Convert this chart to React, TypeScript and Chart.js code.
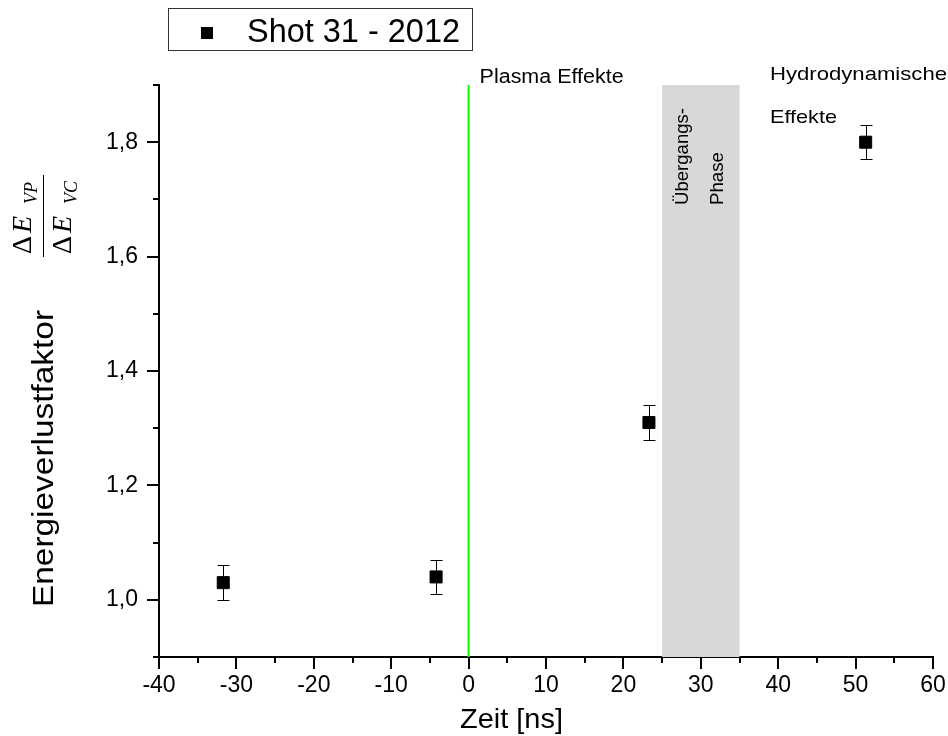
import React, { useEffect, useRef } from 'react';
import { Chart, registerables } from 'chart.js';

Chart.register(...registerables);

// ---- data ----
const timesNs = [-31.7, -4.2, 23.3, 51.3];
const lossFactor = [1.03, 1.04, 1.31, 1.8];
const lossError = [0.03, 0.03, 0.03, 0.03];
const seriesLabel = 'Shot 31 - 2012';
const xTitle = 'Zeit [ns]';
const yTitle = 'Energieverlustfaktor';
const xRange = [-40, 60];
const yRange = [0.9, 1.9];
const xMinorStep = 5;
const xMajorStep = 10;
const yMinorStep = 0.1;
const transitionPhase = [25, 35];
const plasmaLineAt = 0;
const annotationPlasma = 'Plasma Effekte';
const annotationHydro = ['Hydrodynamische', 'Effekte'];
const annotationTransition = ['Übergangs-', 'Phase'];

const SANS = '"Liberation Sans", Arial, Helvetica, sans-serif';
const SERIF = '"Liberation Serif", "Times New Roman", serif';

function fitText(
  ctx: CanvasRenderingContext2D,
  text: string,
  x: number,
  y: number,
  size: number,
  width: number | null,
  rotate = false,
  family = SANS,
  style = ''
) {
  ctx.save();
  ctx.font = `${style} ${size}px ${family}`.trim();
  const w = ctx.measureText(text).width;
  ctx.translate(x, y);
  if (rotate) ctx.rotate(-Math.PI / 2);
  if (width) ctx.scale(width / w, 1);
  ctx.textAlign = 'left';
  ctx.textBaseline = 'alphabetic';
  ctx.fillStyle = '#000';
  ctx.fillText(text, 0, 0);
  ctx.restore();
}

const decorPlugin = {
  id: 'decor',
  beforeDatasetsDraw(chart: any) {
    const { ctx, chartArea: a, scales } = chart;
    const xs = scales.x;
    ctx.save();
    // transition band
    const b0 = xs.getPixelForValue(transitionPhase[0]);
    const b1 = xs.getPixelForValue(transitionPhase[1]);
    ctx.fillStyle = '#d8d8d8';
    ctx.fillRect(b0, a.top, b1 - b0, a.bottom - a.top);
    // plasma line
    const gx = xs.getPixelForValue(plasmaLineAt);
    ctx.strokeStyle = '#00ff00';
    ctx.lineWidth = 2;
    ctx.beginPath();
    ctx.moveTo(gx, a.top);
    ctx.lineTo(gx, a.bottom);
    ctx.stroke();
    ctx.restore();
  },
  afterDatasetsDraw(chart: any) {
    const { ctx, scales } = chart;
    const xs = scales.x;
    const ys = scales.y;
    ctx.save();
    ctx.strokeStyle = '#000';
    ctx.lineWidth = 1;
    timesNs.forEach((t, i) => {
      const px = Math.round(xs.getPixelForValue(t)) + 0.5;
      const top = Math.round(ys.getPixelForValue(lossFactor[i] + lossError[i])) + 0.5;
      const bot = Math.round(ys.getPixelForValue(lossFactor[i] - lossError[i])) + 0.5;
      ctx.beginPath();
      ctx.moveTo(px, top);
      ctx.lineTo(px, bot);
      ctx.moveTo(px - 6, top);
      ctx.lineTo(px + 6, top);
      ctx.moveTo(px - 6, bot);
      ctx.lineTo(px + 6, bot);
      ctx.stroke();
    });
    ctx.restore();
  },
  afterDraw(chart: any) {
    const { ctx, chartArea: a, scales } = chart;
    const xs = scales.x;
    const ys = scales.y;
    ctx.save();
    // tick marks (major + minor), outward
    ctx.strokeStyle = '#000';
    ctx.lineWidth = 2;
    xs.ticks.forEach((tk: any) => {
      const major = Math.round(tk.value) % xMajorStep === 0;
      const px = Math.round(xs.getPixelForValue(tk.value));
      ctx.beginPath();
      ctx.moveTo(px, a.bottom);
      ctx.lineTo(px, a.bottom + (major ? 12 : 6));
      ctx.stroke();
    });
    ys.ticks.forEach((tk: any) => {
      const major = Math.round(tk.value * 10) % 2 === 0;
      const py = Math.round(ys.getPixelForValue(tk.value));
      ctx.beginPath();
      ctx.moveTo(a.left, py);
      ctx.lineTo(a.left - (major ? 12 : 6), py);
      ctx.stroke();
    });

    // axis titles
    fitText(ctx, xTitle, 460, 728, 28, 103);
    fitText(ctx, yTitle, 53, 607, 29, 297, true);

    // fraction  ΔE_VP / ΔE_VC
    const drawFrac = (bx: number, sub: string) => {
      ctx.save();
      ctx.translate(bx, 254);
      ctx.rotate(-Math.PI / 2);
      ctx.fillStyle = '#000';
      ctx.textBaseline = 'alphabetic';
      ctx.font = `28px ${SERIF}`;
      ctx.fillText('\u0394', 0, 0);
      ctx.font = `italic 28px ${SERIF}`;
      ctx.fillText('E', 21, 0);
      ctx.font = `italic 18px ${SERIF}`;
      ctx.fillText(sub, 50, 6);
      ctx.restore();
    };
    drawFrac(31, 'VP');
    drawFrac(71, 'VC');
    ctx.strokeStyle = '#000';
    ctx.lineWidth = 1;
    ctx.beginPath();
    ctx.moveTo(43.5, 175);
    ctx.lineTo(43.5, 257);
    ctx.stroke();

    // annotations
    const gx = xs.getPixelForValue(plasmaLineAt);
    fitText(ctx, annotationPlasma, gx + 11, 83, 20, 144);
    fitText(ctx, annotationHydro[0], 770, 80, 19, 177);
    fitText(ctx, annotationHydro[1], 770, 123, 19, 67);
    const b0 = xs.getPixelForValue(transitionPhase[0]);
    fitText(ctx, annotationTransition[0], b0 + 26, 205, 19, 97, true);
    fitText(ctx, annotationTransition[1], b0 + 61, 205, 19, 53, true);

    // legend
    ctx.strokeStyle = '#333';
    ctx.lineWidth = 1;
    ctx.strokeRect(168.5, 8.5, 304, 42);
    ctx.fillStyle = '#000';
    ctx.fillRect(201, 27, 12, 12);
    fitText(ctx, seriesLabel, 247, 42, 34, 213);
    ctx.restore();
  },
};

export default function App() {
  const ref = useRef<HTMLCanvasElement | null>(null);
  useEffect(() => {
    if (!ref.current) return;
    const chart = new Chart(ref.current, {
      type: 'scatter',
      data: {
        datasets: [
          {
            label: seriesLabel,
            data: timesNs.map((t, i) => ({ x: t, y: lossFactor[i] })),
            pointStyle: 'rect',
            pointRadius: 8.5,
            pointHoverRadius: 8.5,
            backgroundColor: '#000',
            borderColor: '#000',
            borderWidth: 1,
            showLine: false,
          },
        ],
      },
      options: {
        responsive: false,
        animation: false,
        events: [],
        layout: { padding: { top: 85, right: 15, left: 0, bottom: 0 } },
        plugins: { legend: { display: false }, tooltip: { enabled: false } },
        scales: {
          x: {
            type: 'linear',
            min: xRange[0],
            max: xRange[1],
            afterFit: (s: any) => {
              s.height = 79;
              s.paddingLeft = 0;
              s.paddingRight = 0;
            },
            border: { display: true, color: '#000', width: 2 },
            grid: { display: false, drawTicks: false, tickLength: 0 },
            ticks: {
              stepSize: xMinorStep,
              autoSkip: false,
              maxRotation: 0,
              padding: 15,
              color: '#000',
              font: { family: SANS, size: 23 },
              callback: (v: any) => (Math.round(v) % xMajorStep === 0 ? String(Math.round(v)) : ''),
            },
          },
          y: {
            type: 'linear',
            min: yRange[0],
            max: yRange[1],
            afterFit: (s: any) => {
              s.width = 159;
              s.paddingTop = 0;
              s.paddingBottom = 0;
            },
            border: { display: true, color: '#000', width: 2 },
            grid: { display: false, drawTicks: false, tickLength: 0 },
            ticks: {
              stepSize: yMinorStep,
              autoSkip: false,
              padding: 21,
              color: '#000',
              font: { family: SANS, size: 23 },
              callback: (v: any) => {
                const t = Math.round(v * 10);
                return t % 2 === 0 ? (t / 10).toFixed(1).replace('.', ',') : '';
              },
            },
          },
        },
      },
      plugins: [decorPlugin],
    } as any);
    return () => chart.destroy();
  }, []);
  return (
    <div style={{ position: 'absolute', left: 0, top: 0, width: 948, height: 736, background: '#fff' }}>
      <canvas ref={ref} width={948} height={736} style={{ display: 'block' }} />
    </div>
  );
}
